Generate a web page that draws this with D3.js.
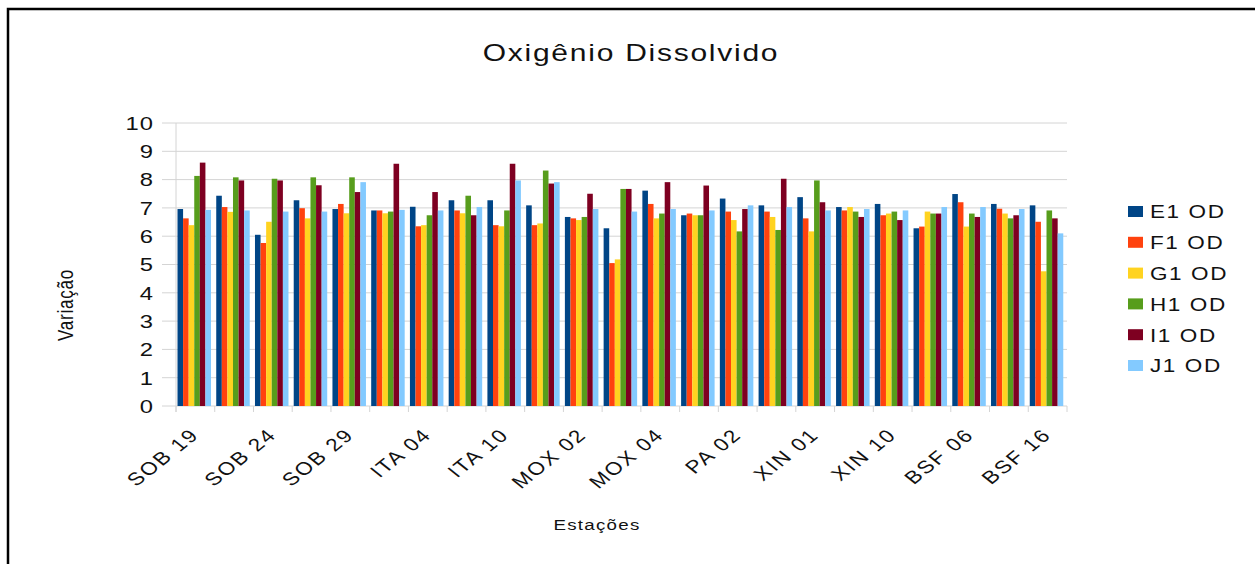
<!DOCTYPE html>
<html>
<head>
<meta charset="utf-8">
<script src="https://cdn.jsdelivr.net/npm/d3@7/dist/d3.min.js"></script>
<style>
  body { margin: 0; background: #fff; }
  svg { display: block; font-family: "Liberation Sans", Arial, sans-serif; }
</style>
</head>
<body>
<svg id="chart" width="1255" height="564"></svg>
<script>
const stations = ["SOB 19","SOB 22","SOB 24","SOB 27","SOB 29","ITA 01","ITA 04","ITA 07","ITA 10","MOX 01","MOX 02","MOX 03",
  "MOX 04","PA 01","PA 02","PA 03","XIN 01","XIN 05","XIN 10","BSF 01","BSF 06","BSF 11","BSF 16"];
const seriesNames = ["E1 OD","F1 OD","G1 OD","H1 OD","I1 OD","J1 OD"];
const e1 = [6.96,7.43,6.05,7.27,6.96,6.91,7.04,7.27,7.27,7.09,6.68,6.28,7.61,6.74,7.33,7.09,7.38,7.03,7.14,6.28,7.49,7.14,7.09];
const f1 = [6.63,7.03,5.76,6.99,7.14,6.91,6.35,6.91,6.39,6.39,6.63,5.05,7.14,6.80,6.87,6.87,6.63,6.91,6.74,6.34,7.20,6.97,6.51];
const g1 = [6.39,6.86,6.51,6.63,6.81,6.81,6.39,6.81,6.35,6.45,6.57,5.18,6.63,6.74,6.57,6.68,6.17,7.03,6.80,6.87,6.34,6.80,4.76];
const h1 = [8.13,8.08,8.03,8.08,8.08,6.87,6.74,7.43,6.91,8.32,6.68,7.67,6.80,6.74,6.17,6.22,7.97,6.87,6.87,6.80,6.80,6.63,6.91];
const i1 = [8.60,7.97,7.97,7.80,7.56,8.56,7.56,6.74,8.56,7.86,7.50,7.67,7.91,7.79,6.96,8.03,7.20,6.68,6.57,6.80,6.68,6.74,6.63];
const j1 = [6.93,6.91,6.87,6.87,7.91,6.93,6.91,7.03,7.97,7.91,6.96,6.87,6.96,6.91,7.09,7.03,6.91,6.96,6.91,7.03,7.03,6.96,6.10];
const yTicks = [0,1,2,3,4,5,6,7,8,9,10];
const colors = ["#004586","#ff420e","#ffd320","#579d1c","#7e0021","#83caff"];

const seriesValues = [e1, f1, g1, h1, i1, j1];
const svg = d3.select("#chart");
const sx = 1.25; // the screenshot's text is stretched sideways

// frame (left + top only, as in the screenshot)
svg.append("path").attr("d", "M8,564 V9 H1255").attr("fill", "none").attr("stroke", "#000").attr("stroke-width", 2.5);

const plot = { left: 176, right: 1067, top: 123, bottom: 406 };
const x = d3.scaleBand().domain(stations).range([plot.left, plot.right]);
const xInner = d3.scaleBand().domain(seriesNames).range([1.5, 35]);
const y = d3.scaleLinear().domain([0, 10]).range([plot.bottom, plot.top]);

// grid
svg.append("g").selectAll("line").data(yTicks).join("line")
  .attr("x1", 162).attr("x2", plot.right)
  .attr("y1", d => y(d)).attr("y2", d => y(d))
  .attr("stroke", "#d4d4d4").attr("stroke-width", 1);

svg.append("line").attr("x1", plot.left).attr("x2", plot.left)
  .attr("y1", plot.top).attr("y2", plot.bottom + 6)
  .attr("stroke", "#d4d4d4");

svg.append("g").selectAll("text").data(yTicks).join("text")
  .attr("transform", d => `translate(154,${y(d)}) scale(${sx},1)`)
  .attr("dy", "0.36em").attr("letter-spacing", 0.8)
  .attr("text-anchor", "end").attr("font-size", 19).attr("fill", "#111")
  .text(d => d);

// x ticks at group boundaries
svg.append("g").selectAll("line").data(stations.concat(["end"])).join("line")
  .attr("x1", (d, i) => plot.left + i * x.bandwidth()).attr("x2", (d, i) => plot.left + i * x.bandwidth())
  .attr("y1", plot.bottom).attr("y2", plot.bottom + 6)
  .attr("stroke", "#d4d4d4");

// bars
const groups = svg.append("g").selectAll("g").data(stations).join("g")
  .attr("transform", d => `translate(${x(d)},0)`);
groups.selectAll("rect")
  .data((d, i) => seriesNames.map((s, k) => ({ s, k, v: seriesValues[k][i] })))
  .join("rect")
  .attr("x", d => xInner(d.s))
  .attr("width", xInner.bandwidth())
  .attr("y", d => y(d.v))
  .attr("height", d => y(0) - y(d.v))
  .attr("fill", d => colors[d.k]);

// category labels (every second one is shown)
svg.append("g").selectAll("text").data(stations.filter((d, i) => i % 2 === 0)).join("text")
  .attr("transform", d => `translate(${x(d) + x.bandwidth() / 2 + 5},436) scale(${sx},1) rotate(-45)`)
  .attr("text-anchor", "end").attr("font-size", 18).attr("letter-spacing", 1.6).attr("fill", "#111")
  .text(d => d);

// titles
svg.append("text").attr("transform", `translate(631,61) scale(${sx},1)`).attr("text-anchor", "middle")
  .attr("font-size", 24).attr("letter-spacing", 1.4).attr("fill", "#111")
  .text("Oxigênio Dissolvido");
svg.append("text").attr("transform", `translate(597,530) scale(${sx},1)`).attr("text-anchor", "middle")
  .attr("font-size", 15).attr("letter-spacing", 1).attr("fill", "#111")
  .text("Estações");
svg.append("text").attr("transform", `translate(73,305) scale(${sx},1) rotate(-90)`).attr("text-anchor", "middle")
  .attr("font-size", 17).attr("letter-spacing", 0.8).attr("fill", "#111")
  .text("Variação");

// legend
const legend = svg.append("g").selectAll("g").data(seriesNames).join("g")
  .attr("transform", (d, i) => `translate(1128,${212 + i * 30.8})`);
legend.append("rect").attr("x", 0).attr("y", -6).attr("width", 15).attr("height", 11)
  .attr("fill", (d, i) => colors[i]);
legend.append("text").attr("transform", `translate(22,0) scale(${sx},1)`).attr("dy", "0.36em").attr("font-size", 18)
  .attr("letter-spacing", 1.3).attr("fill", "#111").text(d => d);
</script>
</body>
</html>
